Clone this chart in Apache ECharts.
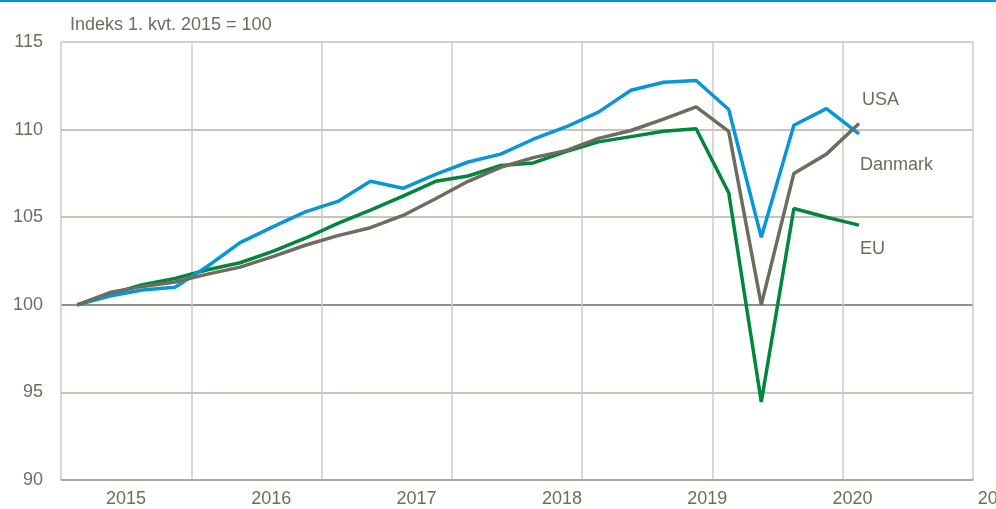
<!DOCTYPE html>
<html>
<head>
<meta charset="utf-8">
<script src="https://cdn.jsdelivr.net/npm/echarts@6/dist/echarts.min.js"></script>
<style>
  html, body { margin: 0; padding: 0; background: #fff; }
  #chart { width: 996px; height: 509px; }
</style>
</head>
<body>
<div id="chart"></div>
<script>
  // Indeks 1. kvt. 2015 = 100, kvartaler 2015K1 - 2021K1
  var yearLabels = ['2015', '2016', '2017', '2018', '2019', '2020', '2021'];
  var usa = [100, 100.5, 100.85, 101.0, 102.2, 103.55, 104.45, 105.3, 105.9, 107.05, 106.65, 107.45,
             108.15, 108.6, 109.45, 110.15, 111.0, 112.25, 112.7, 112.8, 111.15, 103.85, 110.25, 111.2, 109.75];
  var danmark = [100, 100.7, 101.05, 101.3, 101.75, 102.15, 102.75, 103.4, 103.95, 104.4, 105.1, 106.05,
                 107.05, 107.85, 108.4, 108.8, 109.5, 109.95, 110.6, 111.3, 109.9, 100.0, 107.5, 108.6, 110.35];
  var eu = [100, 100.6, 101.15, 101.5, 102.0, 102.4, 103.05, 103.8, 104.65, 105.4, 106.2, 107.05,
            107.35, 107.95, 108.1, 108.75, 109.3, 109.6, 109.9, 110.05, 106.4, 94.45, 105.5, 105.0, 104.55];

  var font = "'Liberation Sans', Arial, sans-serif";
  var fs = 18;
  var txt = '#6e6b5f';

  // punkter midt i kvartalet
  function pts(arr) {
    return arr.map(function (v, i) { return [i + 0.5, v]; });
  }

  function lineSeries(name, data, color, off) {
    return {
      name: name,
      type: 'line',
      xAxisIndex: 0,
      yAxisIndex: 0,
      data: pts(data),
      symbol: 'none',
      lineStyle: { color: color, width: 3.5 },
      endLabel: {
        show: true,
        formatter: '{a}',
        color: txt,
        fontFamily: font,
        fontSize: fs,
        distance: 5,
        offset: off
      }
    };
  }

  var myChart = echarts.init(document.getElementById('chart'));
  myChart.setOption({
    animation: false,
    title: {
      text: 'Indeks 1. kvt. 2015 = 100',
      left: 65,
      top: 11,
      textStyle: { color: txt, fontFamily: font, fontSize: fs, fontWeight: 'normal' }
    },
    graphic: [{
      type: 'rect',
      shape: { x: 0, y: 0, width: 996, height: 2 },
      style: { fill: '#0096d6' }
    }],
    grid: [
      { left: 61, top: 42, width: 912, height: 438, outerBoundsMode: 'none' },
      // aksetekster: bredere gitter, der går ud over kanten
      { left: 53.35, width: 1017.1, top: 42, height: 438, outerBoundsMode: 'none' }
    ],
    xAxis: [{
      type: 'value',
      gridIndex: 0,
      min: 0,
      max: 28,
      interval: 4,
      axisLine: { show: true, onZero: false, lineStyle: { color: '#a5a391', width: 1.5 } },
      axisTick: { show: false },
      axisLabel: { show: false },
      splitLine: { show: true, lineStyle: { color: '#cdcbc0', width: 1.5 } }
    }, {
      type: 'category',
      gridIndex: 1,
      data: yearLabels,
      boundaryGap: true,
      axisLine: { show: false },
      axisTick: { show: false },
      splitLine: { show: false },
      axisLabel: { color: txt, fontFamily: font, fontSize: fs, margin: 10, interval: 0 }
    }],
    yAxis: [{
      type: 'value',
      gridIndex: 0,
      min: 90,
      max: 115,
      interval: 5,
      axisLine: { show: false },
      axisTick: { show: false },
      axisLabel: { color: txt, fontFamily: font, fontSize: fs, margin: 18 },
      splitLine: {
        show: true,
        lineStyle: { color: ['#a5a391', '#b3b1a4', '#6e6b5f', '#b3b1a4', '#b3b1a4', '#c4c2b6'], width: 1.5 }
      }
    }, {
      type: 'value',
      gridIndex: 1,
      show: false
    }],
    series: [
      lineSeries('EU', eu, '#00873d', [-4, 24]),
      lineSeries('USA', usa, '#0996d8', [-2, -34]),
      lineSeries('Danmark', danmark, '#6e6b5f', [-4, 42])
    ]
  });
</script>
</body>
</html>
